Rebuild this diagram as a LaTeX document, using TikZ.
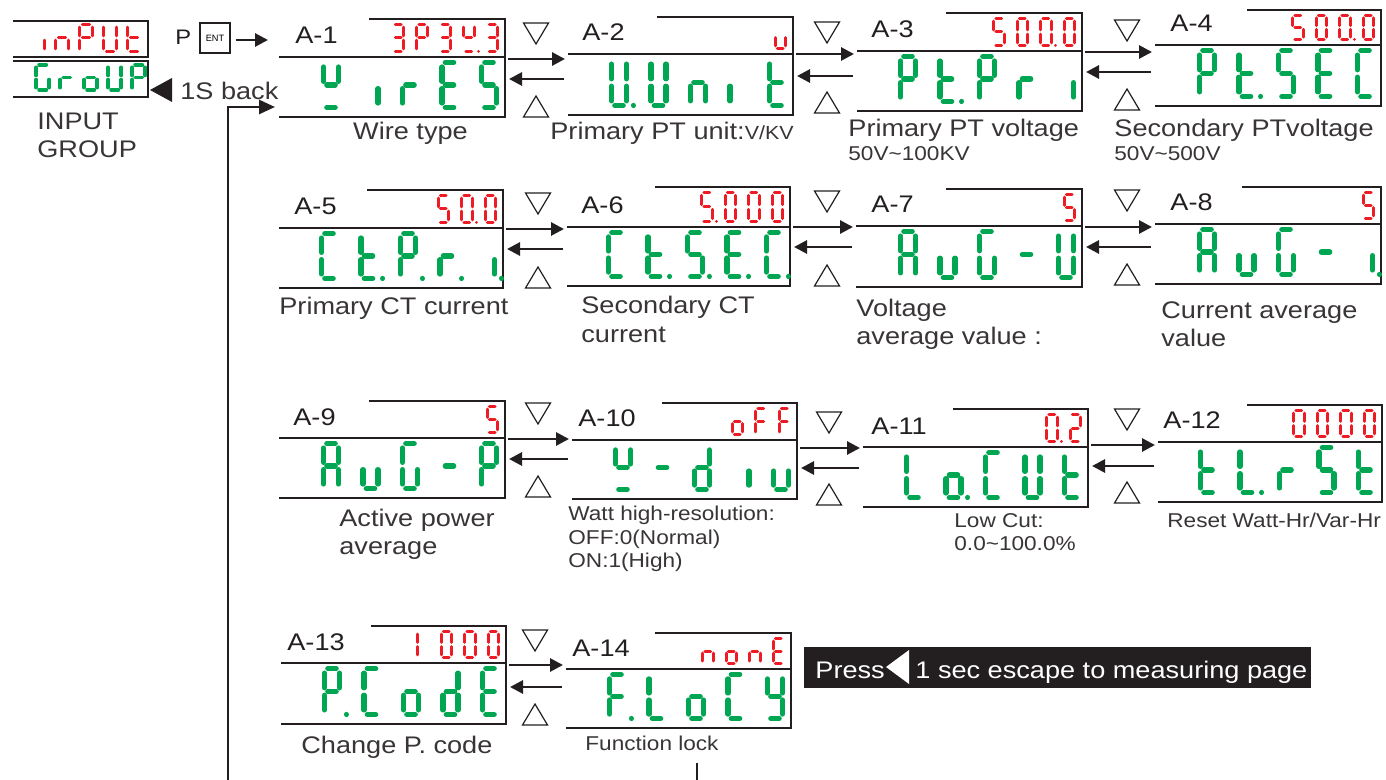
\documentclass[tikz,border=0pt]{standalone}
\usepackage{fontspec}
\setmainfont{Liberation Sans}
\newfontfamily\labfont[FakeStretch=1.13]{Liberation Sans}
\usetikzlibrary{arrows.meta,calc}
\definecolor{lcdg}{RGB}{0,166,81}
\definecolor{lcdr}{RGB}{237,28,36}
\definecolor{ink}{RGB}{35,31,32}
\makeatletter
\def\segparse#1{\ifx#1\relax\else\csname ss@#1\endcsname\expandafter\segparse\fi}
\@namedef{ss@a}{\draw (0.22,1)--(0.78,1);}
\@namedef{ss@b}{\draw (1,0.9)--(1,0.58);}
\@namedef{ss@c}{\draw (1,0.42)--(1,0.1);}
\@namedef{ss@d}{\draw (0.22,0)--(0.78,0);}
\@namedef{ss@e}{\draw (0,0.42)--(0,0.1);}
\@namedef{ss@f}{\draw (0,0.9)--(0,0.58);}
\@namedef{ss@g}{\draw (0.22,0.5)--(0.78,0.5);}
\@namedef{ss@p}{\draw (1.45,0)--(1.45,0.001);}
\makeatother
\tikzset{
  glcd/.style={color=lcdg, line width=2.6pt, line cap=round},
  glcds/.style={color=lcdg, line width=1.8pt, line cap=round},
  rlcd/.style={color=lcdr, line width=1.5pt, line cap=round},
  frame/.style={line width=0.75pt, draw=ink},
  midline/.style={line width=1.25pt, draw=ink},
  idlab/.style={font=\labfont\fontsize{12}{14}\selectfont, inner sep=0pt, text=ink},
  mainlab/.style={font=\labfont\fontsize{12}{14}\selectfont, inner sep=0pt, text=ink!90},
  sublab/.style={font=\labfont\fontsize{10}{12}\selectfont, inner sep=0pt, text=ink!90},
  presslab/.style={font=\labfont\fontsize{12}{14}\selectfont, inner sep=0pt, text=white},
  navarr/.style={line width=1.4pt, draw=ink, -{Triangle[length=6.5pt,width=6.5pt]}},
  fbarr/.style={line width=1.3pt, draw=ink, -{Triangle[length=8pt,width=7pt]}},
  navtri/.style={line width=0.6pt, draw=ink},
}
% #1 right x (centre of last cell's right segments), #2 bottom y, #3 cell width, #4 cell height, #5 pitch, #6 number of cells, #7 style, #8 list
\newcommand\lcd[8]{%
  \begin{scope}[#7]
  \foreach \s [count=\i from 0] in {#8}{%
    \begin{scope}[shift={({(#1)-(#3)-((#6)-1-\i)*(#5)},{#2})}, x={(#3,0)}, y={(0,-(#4))}]
      \expandafter\segparse\s\relax
    \end{scope}}
  \end{scope}}
% #1 name, #2 left, #3 right, #4 top, #5 mid, #6 bottom, #7 left of upper box, #8 label, #9 label offset
\newcommand\panel[9]{%
  \def\pL{#2}\def\pR{#3}\def\pT{#4}\def\pM{#5}\def\pB{#6}%
  \coordinate (#1tl) at (#7,#4);
  \coordinate (#1tr) at (#3,#4);
  \coordinate (#1ml) at (#2,#5);
  \coordinate (#1mr) at (#3,#5);
  \coordinate (#1bl) at (#2,#6);
  \coordinate (#1br) at (#3,#6);
  \draw[frame] (#1tl) -- (#1tr) -- (#1br) -- (#1bl);
  \draw[midline] (#1ml) -- (#1mr);
  \node[idlab, anchor=base west] (#1id) at ({#2+#9},{#5-13}) {#8};
}
\newcommand\redd[2]{\lcd{\pR-7.5}{\pM-5.5}{10.5}{\pM-\pT-11}{23.5}{#1}{rlcd}{#2}}
\newcommand\greend[1]{\lcd{\pR-8.5}{\pB-9.5}{15}{\pB-\pM-15}{39.5}{5}{glcd}{#1}}
% #1 source, #2 target, #3 y right arrow, #4 y left arrow, #5 x of triangles, #6 top of down triangle, #7 bottom of up triangle
\newcommand\navpair[7]{%
  \draw[navarr] ($(#1mr |- 0,#3)+(3,0)$) -- ($(#2ml |- 0,#3)+(-3,0)$);
  \draw[navarr] ($(#2ml |- 0,#4)+(-4,0)$) -- ($(#1mr |- 0,#4)+(4,0)$);
  \draw[navtri] (#5-12.5,#6) -- (#5+12.5,#6) -- (#5,#6+21) -- cycle;
  \draw[navtri] (#5-12.5,#7) -- (#5+12.5,#7) -- (#5,#7-21) -- cycle;
}
\begin{document}
\begin{tikzpicture}[x=0.5pt, y=-0.5pt]
\useasboundingbox (0,0) rectangle (1386,780);
\fill[white] (0,0) rectangle (1386,780);

% ---------- INPUT / GROUP ----------
\coordinate (inTL) at (13,21); \coordinate (inTR) at (148,21);
\coordinate (inBR) at (148,57); \coordinate (inBL) at (13,57);
\draw[frame] (inTL) -- (inTR) -- (inBR) -- (inBL);
\coordinate (grTL) at (13,61); \coordinate (grTR) at (148,61);
\coordinate (grBR) at (148,97); \coordinate (grBL) at (13,97);
\draw[frame] (grTL) -- (grTR) -- (grBR) -- (grBL);
\lcd{140.5}{51.5}{13}{27}{24}{5}{rlcd}{c,ceg,abefg,bcdef,defg}
\lcd{145.2}{90.2}{13}{25.4}{24}{5}{glcds}{acdef,eg,cdeg,bcdef,abefg}
\node[mainlab, anchor=base west] (ingrp1) at (37,130) {INPUT};
\node[mainlab, anchor=base west] (ingrp2) at (37,158) {GROUP};
\fill[ink] (150,90) -- (172,78) -- (172,102) -- cycle;
\node[mainlab, anchor=base west] (back) at (180,100) {1S back};
\node[idlab, anchor=base west, font=\labfont\fontsize{10.5}{12}\selectfont] (pkey) at (175,45) {P};
\node[draw=ink, line width=0.6pt, minimum width=15pt, minimum height=15pt, inner sep=0pt,
      font=\fontsize{4.6}{5}\selectfont] (ent) at (215,38) {ENT};
\coordinate (entto) at (268,40);
\draw[navarr] ($(ent.east)+(5,2)$) -- (entto);

% ---------- Row 1 ----------
\panel{A1}{279}{505}{19}{57}{117}{369}{A-1}{16}
\redd{5}{abcdg,abefg,abcdg,bdfgp,abcdg}
\greend{bdfg,c,eg,adefg,acdfg}
\panel{A2}{568}{793}{17}{54}{115}{657}{A-2}{14}
\redd{1}{cde}
\greend{bcdefp,bcdef,ceg,e,defg}
\panel{A3}{857}{1082}{13}{51}{111}{946}{A-3}{14}
\redd{4}{acdfg,abcdef,abcdefp,abcdef}
\greend{abefg,defgp,abefg,eg,c}
\panel{A4}{1155}{1381}{10}{45}{106}{1247}{A-4}{15}
\redd{4}{acdfg,abcdef,abcdefp,abcdef}
\greend{abefg,defgp,acdfg,adefg,adef}
\navpair{A1}{A2}{59}{79}{536}{23}{117}
\navpair{A2}{A3}{54}{76}{827}{22}{113}
\navpair{A3}{A4}{52}{72}{1127}{20}{110}
\node[mainlab, anchor=base] (l1) at (410.5,140) {Wire type};
\node[mainlab, anchor=base west] (l2) at (550,140) {Primary PT unit:{\fontsize{9.5}{11}\selectfont V/KV}};
\node[mainlab, anchor=base west] (l3a) at (848,137) {Primary PT voltage};
\node[sublab, anchor=base west] (l3b) at (848,161) {50V\textasciitilde100KV};
\node[mainlab, anchor=base west] (l4a) at (1114,137) {Secondary PTvoltage};
\node[sublab, anchor=base west] (l4b) at (1114,161) {50V\textasciitilde500V};

% ---------- Row 2 ----------
\panel{A5}{279}{503}{190}{228}{288}{367}{A-5}{15}
\redd{3}{acdfg,abcdefp,abcdef}
\greend{adef,defgp,abefgp,egp,cp}
\panel{A6}{567}{790}{187}{227}{286}{655}{A-6}{14}
\redd{4}{acdfgp,abcdef,abcdef,abcdef}
\greend{adef,defgp,acdfgp,adefgp,adefp}
\panel{A7}{856}{1082}{189}{226}{287}{946}{A-7}{15}
\redd{1}{acdfg}
\greend{abcefg,cde,acdef,g,bcdef}
\panel{A8}{1155}{1381}{187}{224}{284}{1242}{A-8}{15}
\redd{1}{acdfg}
\greend{abcefg,cde,acdef,g,cp}
\navpair{A5}{A6}{229}{249}{538}{193}{288}
\navpair{A6}{A7}{227}{247}{827}{191}{286}
\navpair{A7}{A8}{227}{247}{1127}{190}{285}
\node[mainlab, anchor=base west] (l5) at (279,315) {Primary CT current};
\node[mainlab, anchor=base west] (l6a) at (581,314) {Secondary CT};
\node[mainlab, anchor=base west] (l6b) at (581,343) {current};
\node[mainlab, anchor=base west] (l7a) at (856,317) {Voltage};
\node[mainlab, anchor=base west] (l7b) at (856,345) {average value :};
\node[mainlab, anchor=base west] (l8a) at (1161,319) {Current average};
\node[mainlab, anchor=base west] (l8b) at (1161,347) {value};

% ---------- Row 3 ----------
\panel{A9}{279}{505}{401}{438}{498}{369}{A-9}{14}
\redd{1}{acdfg}
\greend{abcefg,cde,acdef,g,abefg}
\panel{A10}{572}{797}{403}{440}{499}{662}{A-10}{6}
\redd{3}{cdeg,aefg,aefg}
\greend{bdfg,g,bcdeg,c,cde}
\panel{A11}{863}{1088}{409}{447}{507}{953}{A-11}{8}
\redd{2}{abcdefp,abdeg}
\greend{def,cdegp,adef,bcdef,defg}
\panel{A12}{1158}{1382}{405}{442}{502}{1247}{A-12}{5}
\redd{4}{abcdef,abcdef,abcdef,abcdef}
\greend{defg,defp,eg,acdfg,defg}
\navpair{A9}{A10}{439}{459}{538}{403}{497}
\navpair{A10}{A11}{448}{468}{829}{412}{505}
\navpair{A11}{A12}{445}{466}{1127}{409}{503}
\node[mainlab, anchor=base west] (l9a) at (339,526) {Active power};
\node[mainlab, anchor=base west] (l9b) at (339,554) {average};
\node[sublab, anchor=base west] (l10a) at (568,520) {Watt high-resolution:};
\node[sublab, anchor=base west] (l10b) at (568,544) {OFF:0(Normal)};
\node[sublab, anchor=base west] (l10c) at (568,567) {ON:1(High)};
\node[sublab, anchor=base west] (l11a) at (954,527) {Low Cut:};
\node[sublab, anchor=base west] (l11b) at (954,550) {0.0\textasciitilde100.0\%};
\node[sublab, anchor=base west] (l12) at (1167,527) {Reset Watt-Hr/Var-Hr};

% ---------- Row 4 ----------
\panel{A13}{281}{506}{626}{663}{724}{371}{A-13}{6}
\redd{4}{ef,abcdef,abcdef,abcdef}
\greend{abefgp,adef,cdeg,bcdeg,adefg}
\panel{A14}{566}{791}{633}{669}{728}{655}{A-14}{6}
\redd{4}{ceg,cdeg,ceg,adefg}
\greend{aefgp,def,cdeg,adef,bcdfg}
\navpair{A13}{A14}{665}{687}{535}{630}{725}
\node[mainlab, anchor=base west] (l13) at (301,753) {Change P. code};
\node[sublab, anchor=base west] (l14) at (585,750) {Function lock};

% ---------- escape note ----------
\node[fill=ink, minimum width=253.5pt, minimum height=20.5pt, inner sep=0pt, anchor=north west] (press) at (804,647) {};
\node[presslab, anchor=base west] (pr1) at (815,678) {Press};
\fill[white] (886,667) -- (909,650) -- (909,684) -- cycle;
\node[presslab, anchor=base west] (pr2) at (915,678) {1 sec escape to measuring page};

% ---------- return line ----------
\coordinate (fbfoot) at (228,780);
\draw[fbarr] (fbfoot) |- ($(A1bl)+(-4,-10)$);
\coordinate (flt) at (697,763);
\coordinate (flb) at (697,780);
\draw[line width=1.1pt, draw=ink] (flt) -- (flb);
\end{tikzpicture}
\end{document}
